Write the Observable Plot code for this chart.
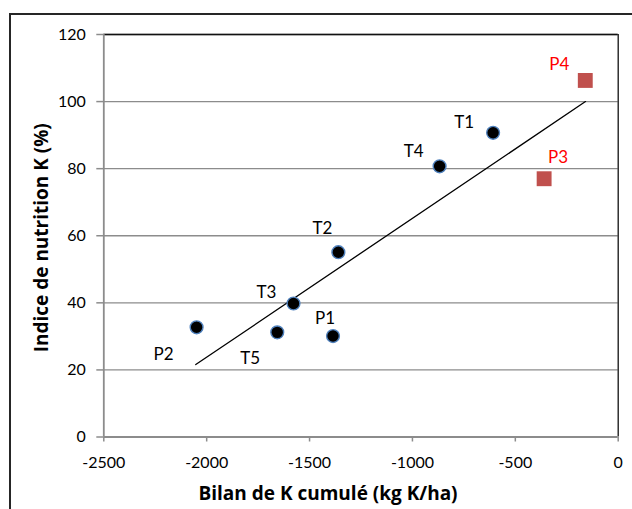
<!DOCTYPE html>
<html>
<head>
<meta charset="utf-8">
<script src="https://cdn.jsdelivr.net/npm/d3@7"></script>
<script src="https://cdn.jsdelivr.net/npm/@observablehq/plot@0.6"></script>
<style>
  html, body { margin: 0; padding: 0; background: #fff; }
  #wrap { position: relative; width: 632px; height: 509px; overflow: hidden; }
  #frame { position: absolute; left: 9px; top: 13px; width: 700px; height: 600px; border: 2px solid #262626; box-sizing: border-box; pointer-events: none; }
  #chart svg { display: block; }
</style>
</head>
<body>
<div id="wrap"><div id="chart"></div><div id="frame"></div></div>
<script>
// ---- data ----
const pointNames = ["T1", "T4", "T2", "T3", "T5", "P1", "P2", "P3", "P4"];
const bilanK = [-608, -868, -1360, -1578, -1657, -1386, -2049, -360, -160];
const indiceK = [90.7, 80.7, 55.1, 39.8, 31.2, 30.1, 32.7, 77.0, 106.3];
const markerKind = ["circle", "circle", "circle", "circle", "circle", "circle", "circle", "square", "square"];
const trendBilan = [-2053, -159];
const trendIndice = [21.6, 100.0];
const xTicks = [-2500, -2000, -1500, -1000, -500, 0];
const yTicks = [0, 20, 40, 60, 80, 100, 120];
const xTitle = "Bilan de K cumulé (kg K/ha)";
const yTitle = "Indice de nutrition K (%)";

// label placement (pixel offsets from each marker)
const labelOffset = {
  T1: [-29, -10], T4: [-26, -15], T2: [-16, -24], T3: [-27, -11],
  T5: [-27, 26], P1: [-8, -17], P2: [-33, 27], P3: [14, -21], P4: [-26, -16]
};

const points = pointNames.map((n, i) => ({name: n, x: bilanK[i], y: indiceK[i], kind: markerKind[i]}));
const circles = points.filter(d => d.kind === "circle");
const squares = points.filter(d => d.kind === "square");
const trend = trendBilan.map((x, i) => ({x, y: trendIndice[i]}));

const FONT = "Lato, 'Open Sans', sans-serif";
const TITLE_FONT = "'Open Sans', Lato, sans-serif";
const GRID = "#8c8c8c";

const chart = Plot.plot({
  width: 632,
  height: 509,
  marginLeft: 103.3,
  marginRight: 14.3,
  marginTop: 34,
  marginBottom: 72.5,
  style: {fontFamily: FONT, background: "transparent"},
  x: {domain: [-2500, 0], ticks: xTicks},
  y: {domain: [0, 120], ticks: yTicks},
  marks: [
    Plot.gridY(yTicks.filter(t => t > 0), {stroke: GRID, strokeOpacity: 1, strokeWidth: 1.3}),
    Plot.ruleY([120], {stroke: "#111", strokeWidth: 1.3}),
    Plot.ruleX([0], {stroke: "#111", strokeWidth: 1.3}),
    Plot.ruleY([0], {stroke: GRID, strokeWidth: 1.8}),
    Plot.ruleX([-2500], {stroke: GRID, strokeWidth: 1.8}),
    Plot.axisY(yTicks, {tickSize: 7, tickPadding: 11, fontSize: 16, stroke: GRID, fill: "#000", label: null, strokeWidth: 1.5, tickFormat: d => String(d)}),
    Plot.axisX(xTicks, {tickSize: 5, tickPadding: 15, fontSize: 16, stroke: GRID, fill: "#000", label: null, strokeWidth: 1.5, tickFormat: d => String(d)}),
    Plot.line(trend, {x: "x", y: "y", stroke: "#000", strokeWidth: 1.3}),
    Plot.dot(circles, {x: "x", y: "y", r: 6.4, fill: "#000", stroke: "#4f81bd", strokeWidth: 1.4}),
    Plot.dot(squares, {x: "x", y: "y", r: 8.4, symbol: "square", fill: "#c0504d"}),
    Plot.text(points, {
      x: "x", y: "y", text: "name", fontSize: 17,
      fill: d => d.kind === "square" ? "#ff0000" : "#000"
    }),
    Plot.text([xTitle], {text: d => d, frameAnchor: "bottom", textAnchor: "middle", lineAnchor: "middle", dx: -33, dy: 57, fontSize: 19, fontWeight: "bold", fontFamily: TITLE_FONT, fill: "#000"}),
    Plot.text([yTitle], {text: d => d, frameAnchor: "left", textAnchor: "middle", lineAnchor: "middle", rotate: -90, dx: -62, dy: 2, fontSize: 19, fontWeight: "bold", fontFamily: TITLE_FONT, fill: "#000"})
  ]
});

// apply per-label offsets
const labelGroup = chart.querySelectorAll("g[aria-label='text']")[0];
labelGroup.querySelectorAll("text").forEach((t, i) => {
  const off = labelOffset[points[i].name];
  const tr = t.getAttribute("transform") || "";
  t.setAttribute("transform", tr + ` translate(${off[0]},${off[1]})`);
});

document.getElementById("chart").appendChild(chart);
</script>
</body>
</html>
